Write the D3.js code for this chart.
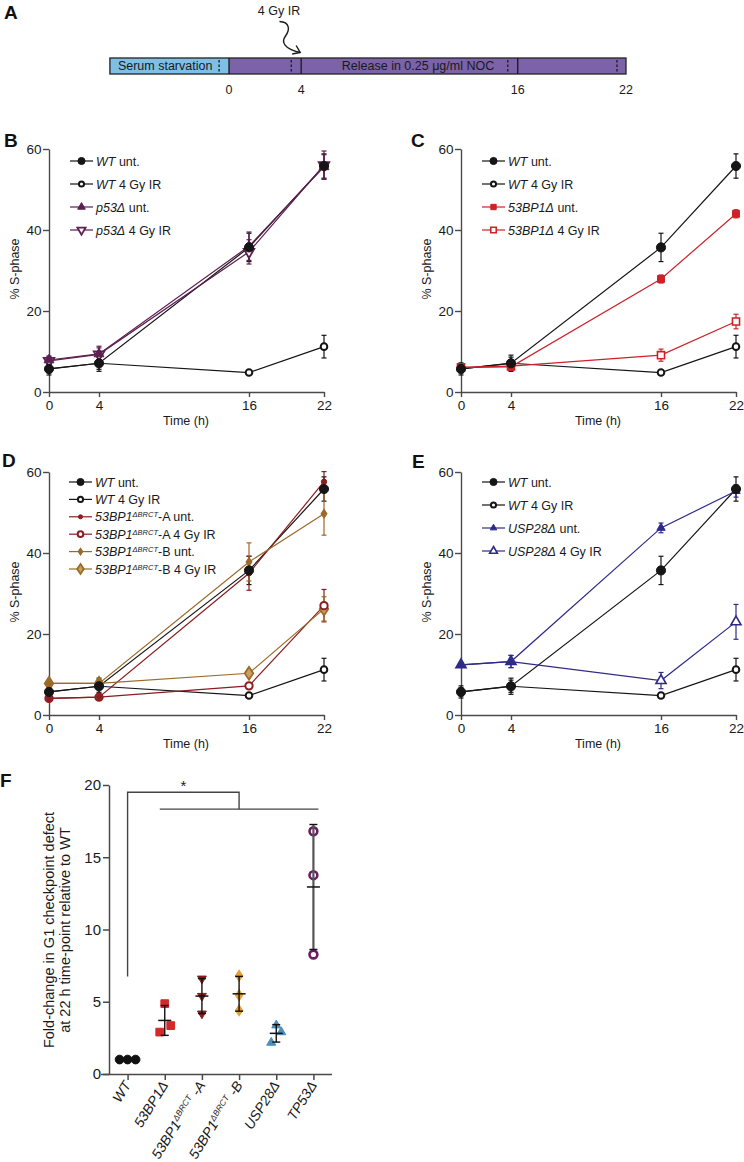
<!DOCTYPE html>
<html><head><meta charset="utf-8">
<script src="https://cdn.jsdelivr.net/npm/d3@7"></script>
<style>
html,body{margin:0;padding:0;background:#fff;}
svg{display:block;font-family:"Liberation Sans",Arial,Helvetica,sans-serif;}
text{white-space:pre;}
</style></head>
<body>
<script>
// ---------------- DATA ----------------
const timepoints = [0, 4, 16, 22];
const timelineTicks = [0, 4, 16, 22];
const timelineSamples = [-0.55, 3.45, 15.45, 21.5];
const yTicksLine = [0, 20, 40, 60];

const wtUnt = [5.7, 7.1, 35.7, 55.8];
const wtUntErr = [1.5, 2.0, 3.5, 3.0];
const wtIR = [5.7, 7.1, 4.8, 11.2];
const wtIRErr = [1.0, 1.5, 0.5, 2.8];
const p53Unt = [7.9, 9.4, 36.0, 55.6];
const p53UntErr = [1.0, 1.5, 3.5, 3.0];
const p53IR = [7.7, 9.3, 34.6, 56.0];
const p53IRErr = [1.0, 2.0, 3.0, 3.5];
const bp1Unt = [6.1, 6.2, 27.9, 44.0];
const bp1UntErr = [0.5, 0.8, 1.0, 1.0];
const bp1IR = [6.1, 6.4, 9.1, 17.4];
const bp1IRErr = [0.5, 0.8, 1.5, 1.8];
const brctAUnt = [4.1, 4.4, 35.0, 57.6];
const brctAUntErr = [0.3, 0.3, 4.2, 2.5];
const brctAIR = [4.1, 4.4, 7.2, 27.0];
const brctAIRErr = [0.3, 0.3, 0.5, 4.0];
const brctBUnt = [7.8, 7.8, 37.8, 49.7];
const brctBUntErr = [0.5, 0.5, 4.7, 5.3];
const brctBIR = [7.8, 7.8, 10.3, 26.2];
const brctBIRErr = [0.5, 0.5, 0.5, 3.0];
const uspUnt = [12.4, 13.2, 46.2, 55.3];
const uspUntErr = [0.5, 1.5, 1.2, 1.5];
const uspIR = [12.4, 13.2, 8.5, 23.0];
const uspIRErr = [0.5, 1.5, 2.0, 4.3];

const fCategories = ["WT", "53BP1Δ", "53BP1ΔBRCT-A", "53BP1ΔBRCT-B", "USP28Δ", "TP53Δ"];
const fValues = [
  [1.0, 1.0, 1.0],
  [2.9, 4.87, 3.35],
  [6.6, 5.4, 4.18],
  [6.8, 5.45, 4.4],
  [2.17, 3.37, 2.9],
  [16.8, 13.76, 8.27]
];
const fTicks = [0, 5, 10, 15, 20];

// ---------------- SVG ----------------
const W = 744, H = 1162;
const svg = d3.select("body").append("svg").attr("width", W).attr("height", H);
const AX = "#4a4a4a";
const BLK = "#151515";

function letter(t, x, y) {
  svg.append("text").attr("x", x).attr("y", y).attr("font-size", 19)
    .attr("font-weight", "bold").attr("fill", "#111").text(t);
}

// ---------------- PANEL A ----------------
(function () {
  letter("A", 4, 19);
  const xt = d3.scaleLinear().domain([0, 22]).range([229, 626]);
  const x0 = xt(-6.6), y0 = 58, h = 16;
  const g = svg.append("g");
  g.append("rect").attr("x", x0).attr("y", y0).attr("width", xt(0) - x0).attr("height", h).attr("fill", "#7fbfe6");
  g.append("rect").attr("x", xt(0)).attr("y", y0).attr("width", xt(22) - xt(0)).attr("height", h).attr("fill", "#7b62a9");
  g.append("rect").attr("x", x0).attr("y", y0).attr("width", xt(22) - x0).attr("height", h)
    .attr("fill", "none").attr("stroke", "#222").attr("stroke-width", 1.3);
  [0, 4, 16].forEach(t => g.append("line").attr("x1", xt(t)).attr("x2", xt(t)).attr("y1", y0).attr("y2", y0 + h)
    .attr("stroke", "#1a1a1a").attr("stroke-width", 1.3));
  timelineSamples.forEach(t => g.append("line").attr("x1", xt(t)).attr("x2", xt(t)).attr("y1", y0 + 2).attr("y2", y0 + h - 2)
    .attr("stroke", "#1a1a1a").attr("stroke-width", 1.3).attr("stroke-dasharray", "2.5,2"));
  g.append("text").attr("x", x0 + 8).attr("y", y0 + h / 2 + 4.3).attr("font-size", 12.5).attr("fill", "#1a1a1a").text("Serum starvation");
  g.append("text").attr("x", 418).attr("y", y0 + h / 2 + 4.3).attr("font-size", 12.5).attr("text-anchor", "middle").attr("fill", "#1a1a1a").text("Release in 0.25 μg/ml NOC");
  timelineTicks.forEach(t => g.append("text").attr("x", xt(t)).attr("y", 94).attr("font-size", 12.5)
    .attr("text-anchor", "middle").attr("fill", "#1a1a1a").text(t));
  g.append("text").attr("x", 279).attr("y", 15).attr("font-size", 12.5).attr("text-anchor", "middle").attr("fill", "#1a1a1a").text("4 Gy IR");
  const ax = xt(4);
  g.append("path").attr("d", `M279.5,21.5 C290,22 290,30 285.5,36 C281,42 284,49 ${ax - 1},52.5`)
    .attr("fill", "none").attr("stroke", "#1a1a1a").attr("stroke-width", 1.4);
  g.append("path").attr("d", `M${ax - 9},54 L${ax - 1},52.5 L${ax - 5},45.5`)
    .attr("fill", "none").attr("stroke", "#1a1a1a").attr("stroke-width", 1.4);
})();

// ---------------- LINE PANELS ----------------
const sym = {
  circle: d3.symbolCircle, square: d3.symbolSquare, triangle: d3.symbolTriangle,
  diamond: d3.symbolDiamond, tridown: d3.symbolTriangle
};
function drawMarker(g, m, cx, cy, scale) {
  const s = (m.size || 60) * (scale || 1);
  g.append("path").attr("d", d3.symbol().type(sym[m.shape]).size(s)())
    .attr("transform", `translate(${cx},${cy})` + (m.shape === "tridown" ? " rotate(180)" : "") + (m.shape === "diamond" ? " scale(1.15,1)" : ""))
    .attr("fill", m.open ? (m.inner || "#fff") : m.color)
    .attr("stroke", m.color).attr("stroke-width", m.sw || 1);
}
function addLabel(txt, parts, fs) {
  parts.forEach(p => {
    const ts = txt.append("tspan").text(p.t);
    if (p.it) ts.attr("font-style", "italic");
    if (p.sup) ts.attr("font-size", fs * 0.6).attr("baseline-shift", "super");
  });
}

function linePanel(cfg) {
  const g = svg.append("g");
  const x = d3.scaleLinear().domain([0, 22]).range([cfg.ax, cfg.ax + 275]);
  const y = d3.scaleLinear().domain([0, 60]).range([cfg.yb, cfg.yb - 243]);
  const fs = 12.5;
  const ya = g.append("g").attr("transform", `translate(${cfg.ax},0)`)
    .call(d3.axisLeft(y).tickValues(yTicksLine).tickSize(6).tickSizeOuter(0).tickPadding(1.5));
  const xa = g.append("g").attr("transform", `translate(0,${cfg.yb})`)
    .call(d3.axisBottom(x).tickValues(timepoints).tickSize(5).tickSizeOuter(0).tickPadding(3));
  [ya, xa].forEach(a => {
    a.select(".domain").attr("stroke", AX).attr("stroke-width", 1.4);
    a.selectAll(".tick line").attr("stroke", AX).attr("stroke-width", 1.4);
    a.selectAll(".tick text").attr("font-size", 13.5).attr("fill", "#1a1a1a").attr("font-family", null);
  });
  g.append("text").attr("x", cfg.ax + 137).attr("y", cfg.yb + 33).attr("text-anchor", "middle")
    .attr("font-size", fs).attr("fill", "#1a1a1a").text("Time (h)");
  g.append("text").attr("transform", `translate(${cfg.ax - 30},${cfg.yb - 123}) rotate(-90)`)
    .attr("text-anchor", "middle").attr("font-size", fs).attr("fill", "#1a1a1a").text("% S-phase");

  const line = d3.line().x((d, i) => x(timepoints[i])).y(d => y(d));
  cfg.series.forEach(s => {
    g.append("path").attr("d", line(s.values)).attr("fill", "none").attr("stroke", s.color).attr("stroke-width", 1.2);
  });
  cfg.series.forEach(s => {
    s.values.forEach((v, i) => {
      const e = s.errs[i], cx = x(timepoints[i]);
      g.append("line").attr("x1", cx).attr("x2", cx).attr("y1", y(v - e)).attr("y2", y(v + e)).attr("stroke", s.color).attr("stroke-width", 1.2);
      [v - e, v + e].forEach(w => g.append("line").attr("x1", cx - 2.5).attr("x2", cx + 2.5).attr("y1", y(w)).attr("y2", y(w)).attr("stroke", s.color).attr("stroke-width", 1.2));
    });
  });
  cfg.series.slice().reverse().forEach(s => {
    s.values.forEach((v, i) => drawMarker(g, s.marker, x(timepoints[i]), y(v), 1));
  });
  // legend
  cfg.series.forEach((s, k) => {
    const ly = cfg.ly + k * cfg.ldy;
    g.append("line").attr("x1", cfg.lx).attr("x2", cfg.lx + 23).attr("y1", ly).attr("y2", ly).attr("stroke", s.color).attr("stroke-width", 1.2);
    drawMarker(g, s.marker, cfg.lx + 11.5, ly, 0.6);
    const t = g.append("text").attr("x", cfg.lx + 26).attr("y", ly + 4.5).attr("font-size", cfg.lfs || fs).attr("fill", "#1a1a1a");
    addLabel(t, s.label, cfg.lfs || fs);
  });
}

const mWtUnt = { shape: "circle", color: BLK, size: 66 };
const mWtIR = { shape: "circle", color: BLK, size: 34, open: true, sw: 2 };
const sWtUnt = { values: wtUnt, errs: wtUntErr, color: BLK, marker: mWtUnt, label: [{ t: "WT", it: true }, { t: " unt." }] };
const sWtIR = { values: wtIR, errs: wtIRErr, color: BLK, marker: mWtIR, label: [{ t: "WT", it: true }, { t: " 4 Gy IR" }] };

const P53C = "#5c1f50", RED = "#cc2229", DRED = "#8c1c1f", BRN = "#9a6a2a", NAVY = "#2f2a88";

letter("B", 4, 147);
linePanel({
  ax: 49, yb: 392, lx: 70, ly: 161, ldy: 23,
  series: [sWtUnt, sWtIR,
    { values: p53Unt, errs: p53UntErr, color: P53C, marker: { shape: "triangle", color: P53C, size: 42 }, label: [{ t: "p53Δ", it: true }, { t: " unt." }] },
    { values: p53IR, errs: p53IRErr, color: P53C, marker: { shape: "tridown", color: P53C, size: 48, open: true, sw: 1.8 }, label: [{ t: "p53Δ", it: true }, { t: " 4 Gy IR" }] }]
});

letter("C", 411, 147);
linePanel({
  ax: 461, yb: 392, lx: 482, ly: 161, ldy: 23,
  series: [sWtUnt, sWtIR,
    { values: bp1Unt, errs: bp1UntErr, color: RED, marker: { shape: "square", color: RED, size: 48 }, label: [{ t: "53BP1Δ", it: true }, { t: " unt." }] },
    { values: bp1IR, errs: bp1IRErr, color: RED, marker: { shape: "square", color: RED, size: 50, open: true, sw: 1.6 }, label: [{ t: "53BP1Δ", it: true }, { t: " 4 Gy IR" }] }]
});

letter("D", 2, 467);
linePanel({
  ax: 49, yb: 715, lx: 69, ly: 482, ldy: 17.4, lfs: 12.5,
  series: [sWtUnt, sWtIR,
    { values: brctAUnt, errs: brctAUntErr, color: DRED, marker: { shape: "circle", color: DRED, size: 22 }, label: [{ t: "53BP1", it: true }, { t: "ΔBRCT", it: true, sup: true }, { t: "-A unt." }] },
    { values: brctAIR, errs: brctAIRErr, color: DRED, marker: { shape: "circle", color: DRED, size: 42, open: true, sw: 2 }, label: [{ t: "53BP1", it: true }, { t: "ΔBRCT", it: true, sup: true }, { t: "-A 4 Gy IR" }] },
    { values: brctBUnt, errs: brctBUntErr, color: BRN, marker: { shape: "diamond", color: BRN, size: 22 }, label: [{ t: "53BP1", it: true }, { t: "ΔBRCT", it: true, sup: true }, { t: "-B unt." }] },
    { values: brctBIR, errs: brctBIRErr, color: BRN, marker: { shape: "diamond", color: BRN, size: 48, open: true, inner: "#c9a060", sw: 1.6 }, label: [{ t: "53BP1", it: true }, { t: "ΔBRCT", it: true, sup: true }, { t: "-B 4 Gy IR" }] }]
});

letter("E", 412, 468);
linePanel({
  ax: 461, yb: 715, lx: 482, ly: 482, ldy: 23,
  series: [sWtUnt, sWtIR,
    { values: uspUnt, errs: uspUntErr, color: NAVY, marker: { shape: "triangle", color: NAVY, size: 30 }, label: [{ t: "USP28Δ", it: true }, { t: " unt." }] },
    { values: uspIR, errs: uspIRErr, color: NAVY, marker: { shape: "triangle", color: NAVY, size: 44, open: true, sw: 1.6 }, label: [{ t: "USP28Δ", it: true }, { t: " 4 Gy IR" }] }]
});

// ---------------- PANEL F ----------------
(function () {
  letter("F", 0, 787);
  const g = svg.append("g");
  const x = d3.scalePoint().domain(fCategories).range([109, 332]).padding(0.5);
  const y = d3.scaleLinear().domain([0, 20]).range([1074, 785]);
  const ya = g.append("g").attr("transform", "translate(109,0)")
    .call(d3.axisLeft(y).tickValues(fTicks).tickSize(6).tickSizeOuter(0).tickPadding(2));
  const xa = g.append("g").attr("transform", "translate(0,1074)")
    .call(d3.axisBottom(x).tickSize(6).tickSizeOuter(0).tickFormat(""));
  xa.select(".domain").attr("d", "M101,0.5H332");
  [ya, xa].forEach(a => {
    a.select(".domain").attr("stroke", AX).attr("stroke-width", 1.5);
    a.selectAll(".tick line").attr("stroke", AX).attr("stroke-width", 1.5);
    a.selectAll(".tick text").attr("font-size", 15).attr("fill", "#1a1a1a").attr("font-family", null);
  });
  // rotated category labels
  const labParts = [
    [{ t: "WT", it: true }],
    [{ t: "53BP1Δ", it: true }],
    [{ t: "53BP1", it: true }, { t: "ΔBRCT", it: true, sup: true }, { t: " -A", it: true }],
    [{ t: "53BP1", it: true }, { t: "ΔBRCT", it: true, sup: true }, { t: " -B", it: true }],
    [{ t: "USP28Δ", it: true }],
    [{ t: "TP53Δ", it: true }]
  ];
  fCategories.forEach((c, i) => {
    const t = g.append("text").attr("transform", `translate(${x(c) + 4},${1085}) rotate(-58)`)
      .attr("text-anchor", "end").attr("font-size", 14).attr("fill", "#1a1a1a");
    addLabel(t, labParts[i], 14);
  });
  // y label
  const yl = g.append("text").attr("transform", "translate(56,930) rotate(-90)").attr("text-anchor", "middle")
    .attr("font-size", 14.5).attr("fill", "#1a1a1a");
  yl.append("tspan").attr("x", 0).attr("dy", "-0.15em").text("Fold-change in G1 checkpoint defect");
  yl.append("tspan").attr("x", 0).attr("dy", "1.1em").text("at 22 h time-point relative to WT");

  // significance bracket
  const br = "#444";
  g.append("path").attr("d", `M${x("WT")},${y(6.75)} V${y(19.5)} H${x("53BP1ΔBRCT-B")} V${y(18.33)}`)
    .attr("fill", "none").attr("stroke", br).attr("stroke-width", 1.4);
  g.append("line").attr("x1", x("53BP1Δ") - 5).attr("x2", x("TP53Δ") + 5).attr("y1", y(18.33)).attr("y2", y(18.33))
    .attr("stroke", br).attr("stroke-width", 1.4);
  g.append("text").attr("x", (x("WT") + x("53BP1ΔBRCT-B")) / 2).attr("y", y(19.5) - 1).attr("text-anchor", "middle")
    .attr("font-size", 15).attr("fill", "#1a1a1a").text("*");

  const fMarkers = [
    { shape: "circle", color: "#111", size: 60 },
    { shape: "square", color: "#d22a2a", size: 60 },
    { shape: "tridown", color: "#8a1a1c", size: 34 },
    { shape: "diamond", color: "#e6a032", size: 34 },
    { shape: "triangle", color: "#4c8fbf", size: 36 },
    { shape: "circle", color: "#6a1b62", size: 48, open: true, sw: 2.6 }
  ];
  const jitter = [[-8, 0, 8], [-5, 0, 6], [0, 0, 0], [0, 0, 0], [-5, 0, 5], [0, 0, 0]];
  fCategories.forEach((c, i) => {
    const vals = fValues[i], cx = x(c);
    const m = d3.mean(vals), sd = d3.deviation(vals);
    vals.forEach((v, j) => drawMarker(g, fMarkers[i], cx + jitter[i][j], y(v), 1));
    if (i > 0) {
      const sc = i === 5 ? "#555" : "#111";
      const swd = i === 5 ? 2.2 : 1.4;
      g.append("line").attr("x1", cx).attr("x2", cx).attr("y1", y(m - sd)).attr("y2", y(m + sd)).attr("stroke", sc).attr("stroke-width", swd);
      [m - sd, m + sd].forEach(w => g.append("line").attr("x1", cx - 4).attr("x2", cx + 4).attr("y1", y(w)).attr("y2", y(w)).attr("stroke", "#111").attr("stroke-width", 1.4));
      g.append("line").attr("x1", cx - 6.5).attr("x2", cx + 6.5).attr("y1", y(m)).attr("y2", y(m)).attr("stroke", "#111").attr("stroke-width", 1.5);
    }
  });
})();
</script>
</body></html>
